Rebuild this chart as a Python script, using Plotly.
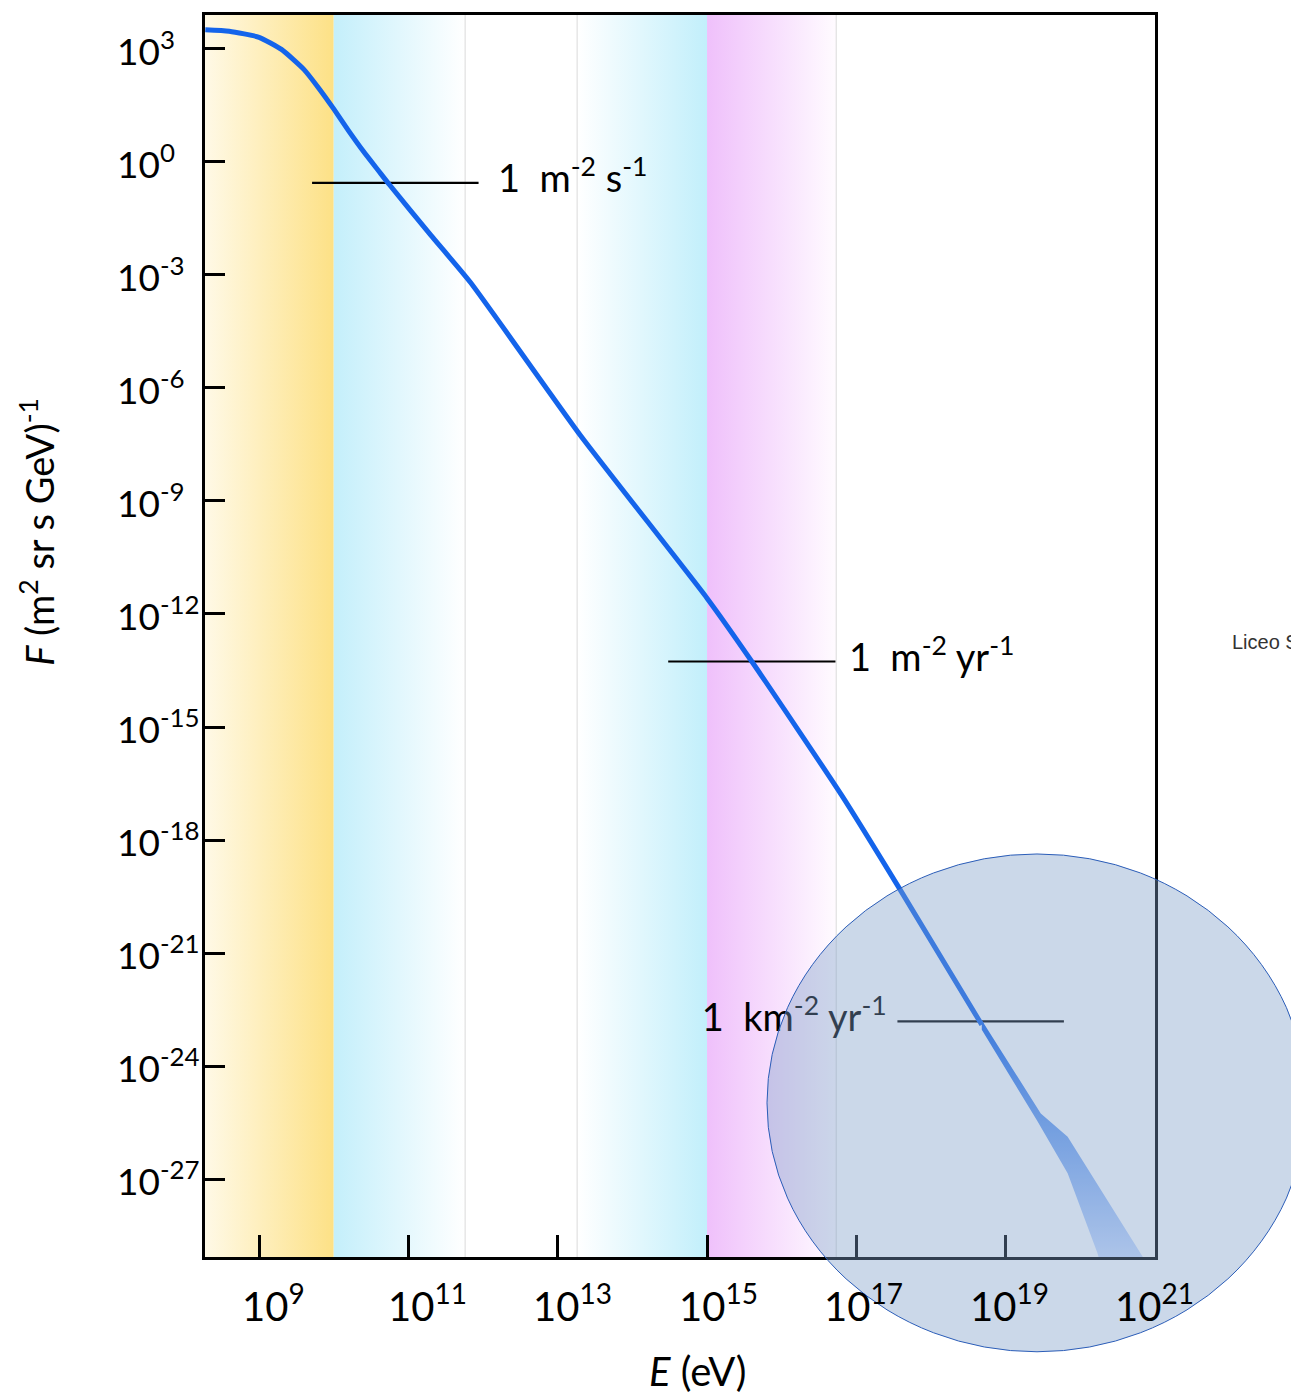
import plotly.graph_objects as go

# ---------------- data ----------------
# main cosmic-ray spectrum: log10(E/eV) and log10(F)
curve_logE = [8.28, 8.60, 9.00, 9.30, 9.60, 9.80, 10.00, 10.20, 10.40, 10.60, 10.75,
              11.30, 11.83, 13.30, 15.00, 15.60, 16.80, 17.57, 18.68]
curve_logF = [3.50, 3.46, 3.30, 2.98, 2.45, 1.95, 1.40, 0.82, 0.27, -0.24, -0.62,
              -1.95, -3.20, -7.25, -11.58, -13.26, -16.80, -19.26, -22.90]

# uncertainty band beyond the ankle
band_upper_logE = [18.68, 19.47, 19.83, 20.81, 20.85]
band_upper_logF = [-22.78, -25.25, -25.87, -28.96, -29.10]
band_lower_logE = [18.68, 19.42, 19.83, 20.23, 20.25]
band_lower_logF = [-23.03, -25.44, -26.84, -28.96, -29.10]

# coloured energy regions: (log10 E start, log10 E end, colour at start, colour at end)
region_start = [8.0, 10.0, 13.26, 15.0]
region_end = [10.0, 11.76, 15.0, 16.73]
region_col_start = ["#FFFDF6", "#C4EFFB", "#FFFFFF", "#EFC0FB"]
region_col_end = ["#FDE186", "#FFFFFF", "#C2EFFB", "#FFFBFF"]
divider_logE = [11.76, 13.26, 16.73]

# integral-flux reference lines
ref_labels = ["1\u00a0 m<sup>-2</sup> s<sup>-1</sup>",
              "1\u00a0 m<sup>-2</sup> yr<sup>-1</sup>",
              "1\u00a0 km<sup>-2</sup> yr<sup>-1</sup>"]
ref_x0 = [9.71, 14.48, 17.55]
ref_x1 = [11.94, 16.72, 19.78]
ref_y = [-0.56, -13.26, -22.81]
ref_text_x = [12.20, 16.90, 14.93]

x_tick_exp = [9, 11, 13, 15, 17, 19, 21]
y_tick_exp = [3, 0, -3, -6, -9, -12, -15, -18, -21, -24, -27]
x_tick_text = [f"10<sup>{e}</sup>" for e in x_tick_exp]
y_tick_text = [f"10<sup>{e}</sup>" for e in y_tick_exp]

X_RANGE = [8.276, 21.0]
Y_RANGE = [-29.06, 3.892]
# the x tick labels in the reference sit on a slightly compressed scale
X_LABEL_RANGE = [8.491, 21.55]


def p(v):
    return float(10.0 ** v)


fig = go.Figure()

# background regions with horizontal gradients
Ylo, Yhi = p(Y_RANGE[0] - 1), p(Y_RANGE[1] + 1)
for xs, xe, c0, c1 in zip(region_start, region_end, region_col_start, region_col_end):
    fig.add_trace(go.Scatter(
        x=[p(xs), p(xe), p(xe), p(xs), p(xs)],
        y=[Ylo, Ylo, Yhi, Yhi, Ylo],
        mode="lines", line=dict(width=0), fill="toself",
        fillgradient=dict(type="horizontal", colorscale=[[0, c0], [1, c1]]),
        hoverinfo="skip"))

for d in divider_logE:
    fig.add_trace(go.Scatter(x=[p(d), p(d)], y=[Ylo, Yhi], mode="lines",
                             line=dict(color="#DADADA", width=1), hoverinfo="skip"))

# reference lines
for x0, x1, y in zip(ref_x0, ref_x1, ref_y):
    fig.add_trace(go.Scatter(x=[p(x0), p(x1)], y=[p(y), p(y)], mode="lines",
                             line=dict(color="black", width=2.2), hoverinfo="skip"))

# main spectrum
fig.add_trace(go.Scatter(x=[p(v) for v in curve_logE], y=[p(v) for v in curve_logF],
                         mode="lines",
                         line=dict(color="rgb(20,100,235)", width=5, shape="spline", smoothing=0.5),
                         hoverinfo="skip"))

# uncertainty band
bx = band_upper_logE + band_lower_logE[::-1]
by = band_upper_logF + band_lower_logF[::-1]
fig.add_trace(go.Scatter(x=[p(v) for v in bx], y=[p(v) for v in by], mode="lines",
                         line=dict(width=0), fill="toself",
                         fillgradient=dict(type="vertical",
                                           colorscale=[[0, "rgb(205,222,255)"], [0.55, "rgb(110,160,240)"],
                                                       [1, "rgb(20,100,235)"]]),
                         hoverinfo="skip"))

# reference line labels (in data layer so the overlay dims them)
for tx, ty, lab in zip(ref_text_x, ref_y, ref_labels):
    fig.add_trace(go.Scatter(x=[p(tx)], y=[p(ty)], mode="text", text=[lab],
                             textposition="middle right", cliponaxis=False,
                             textfont=dict(size=38, color="black", family="Lato"),
                             hoverinfo="skip"))

# pixel -> paper helpers (plot area 950 x 1245 px)
W, H = 950.0, 1245.0
L0, B0 = 205.0, 1257.0


def px(v):
    return (v - L0) / W


def py(v):
    return (B0 - v) / H


# tick labels: left-aligned on y; on x placed on the label scale (xaxis2)
for e, t in zip(y_tick_exp, y_tick_text):
    fig.add_annotation(text=t, xref="paper", yref="y", x=px(115), y=e,
                       xanchor="left", yanchor="middle", yshift=1, showarrow=False,
                       font=dict(size=37, family="Lato", color="black"))
for e, t in zip(x_tick_exp, x_tick_text):
    fig.add_annotation(text=t, xref="x2", yref="paper", x=e, y=py(1274),
                       xanchor="left", yanchor="top", xshift=-2, showarrow=False,
                       font=dict(size=40, family="Lato", color="black"))

# translucent highlight circle (drawn above data and axes)
fig.add_shape(type="circle", xref="paper", yref="paper",
              x0=px(767), x1=px(1307), y0=py(1352), y1=py(853),
              fillcolor="rgba(125,157,200,0.4)", line=dict(color="#2B5DB8", width=1),
              layer="above")

fig.add_annotation(text="Liceo S", xref="paper", yref="paper",
                   x=px(1230), y=py(641), xanchor="left", yanchor="middle",
                   showarrow=False, font=dict(size=20, color="#333333", family="Liberation Sans"))

# axis titles
fig.add_annotation(text="<i>F</i> (m<sup>2</sup> sr s GeV)<sup>-1</sup>", textangle=-90,
                   xref="paper", yref="paper", x=px(37), y=py(530),
                   xanchor="center", yanchor="middle", showarrow=False,
                   font=dict(size=38, family="Lato", color="black"))
fig.add_annotation(text="<i>E</i> (eV)", xref="paper", yref="paper", x=px(697), y=py(1371),
                   xanchor="center", yanchor="middle", showarrow=False,
                   font=dict(size=40, family="Lato", color="black"))

# page is drawn with an 8 px body offset: shift the figure to compensate
fig.update_layout(
    width=1291, height=1389,
    margin=dict(l=197, r=144, t=4, b=140),
    plot_bgcolor="white", paper_bgcolor="white",
    showlegend=False,
    font=dict(family="Lato", color="black"),
    xaxis2=dict(type="log", range=X_LABEL_RANGE, overlaying="x", side="bottom",
                visible=False, showgrid=False, zeroline=False),
)

fig.update_xaxes(
    selector=dict(anchor="y"),
    type="log", range=X_RANGE,
    tickvals=[p(e) for e in x_tick_exp], showticklabels=False,
    ticks="inside", ticklen=22, tickwidth=2.5, tickcolor="black",
    showline=True, linewidth=2.5, linecolor="black", mirror=True,
    showgrid=False, zeroline=False,
)
fig.update_layout(xaxis=dict(
    type="log", range=X_RANGE,
    tickvals=[p(e) for e in x_tick_exp], showticklabels=False,
    ticks="inside", ticklen=22, tickwidth=2.5, tickcolor="black",
    showline=True, linewidth=2.5, linecolor="black", mirror=True,
    showgrid=False, zeroline=False,
))
fig.update_yaxes(
    type="log", range=Y_RANGE,
    tickvals=[p(e) for e in y_tick_exp], showticklabels=False,
    ticks="inside", ticklen=20, tickwidth=2.5, tickcolor="black",
    showline=True, linewidth=2.5, linecolor="black", mirror=True,
    showgrid=False, zeroline=False,
)

fig.write_html("out.html")
